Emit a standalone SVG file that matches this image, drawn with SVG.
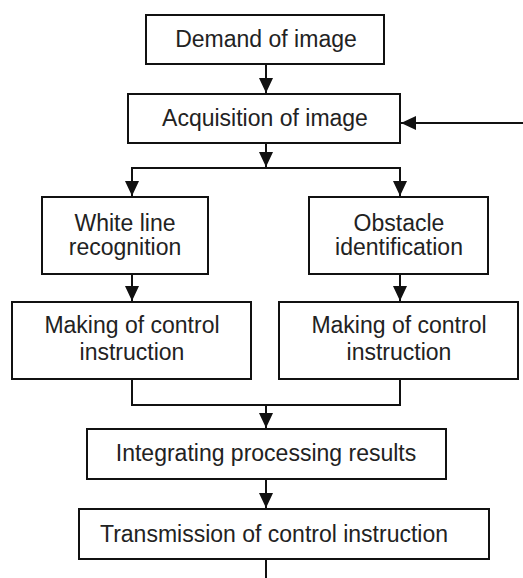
<svg xmlns="http://www.w3.org/2000/svg" width="523" height="578" viewBox="0 0 523 578">
<style>
.box{fill:#fff;stroke:#111;stroke-width:2}
.t{font-family:"Liberation Sans",Arial,sans-serif;font-size:23px;fill:#222;text-anchor:middle}
.c{fill:none;stroke:#111;stroke-width:2}
</style>
<defs>
<marker id="ah" markerUnits="userSpaceOnUse" markerWidth="16" markerHeight="16" viewBox="0 0 16 16" refX="15" refY="8" orient="auto">
<path d="M0,1 L15,8 L0,15 Z" fill="#111"/>
</marker>
</defs>
<rect width="523" height="578" fill="#fff"/>
<g id="connectors">
<line class="c" x1="266" y1="64" x2="266" y2="93" marker-end="url(#ah)"/>
<line class="c" x1="523" y1="123" x2="401" y2="123" marker-end="url(#ah)"/>
<line class="c" x1="266" y1="143" x2="266" y2="167" marker-end="url(#ah)"/>
<polyline class="c" points="132,196 132,168 400,168 400,196"/>
<line class="c" x1="132" y1="168" x2="132" y2="196" marker-end="url(#ah)"/>
<line class="c" x1="400" y1="168" x2="400" y2="196" marker-end="url(#ah)"/>
<line class="c" x1="132" y1="274" x2="132" y2="301" marker-end="url(#ah)"/>
<line class="c" x1="400" y1="274" x2="400" y2="301" marker-end="url(#ah)"/>
<polyline class="c" points="132,379 132,405 400,405 400,379"/>
<line class="c" x1="266" y1="405" x2="266" y2="428" marker-end="url(#ah)"/>
<line class="c" x1="266" y1="479" x2="266" y2="508" marker-end="url(#ah)"/>
<line class="c" x1="266" y1="559" x2="266" y2="578"/>
</g>
<g id="demand">
<rect class="box" x="146" y="15" width="238" height="49"/>
<text class="t" x="266" y="47">Demand of image</text>
</g>
<g id="acquisition">
<rect class="box" x="128" y="94" width="272" height="49"/>
<text class="t" x="265" y="126">Acquisition of image</text>
</g>
<g id="whiteline">
<rect class="box" x="42" y="197" width="166" height="77"/>
<text class="t" x="125" y="231">White line</text>
<text class="t" x="125" y="255">recognition</text>
</g>
<g id="obstacle">
<rect class="box" x="309" y="197" width="179" height="77"/>
<text class="t" x="399" y="231">Obstacle</text>
<text class="t" x="399" y="255">identification</text>
</g>
<g id="making-left">
<rect class="box" x="12" y="302" width="239" height="77"/>
<text class="t" x="132" y="333">Making of control</text>
<text class="t" x="132" y="360">instruction</text>
</g>
<g id="making-right">
<rect class="box" x="279" y="302" width="239" height="77"/>
<text class="t" x="399" y="333">Making of control</text>
<text class="t" x="399" y="360">instruction</text>
</g>
<g id="integrating">
<rect class="box" x="87" y="429" width="359" height="50"/>
<text class="t" x="266" y="461">Integrating processing results</text>
</g>
<g id="transmission">
<rect class="box" x="79" y="509" width="410" height="50"/>
<text class="t" x="274" y="542">Transmission of control instruction</text>
</g>
</svg>
